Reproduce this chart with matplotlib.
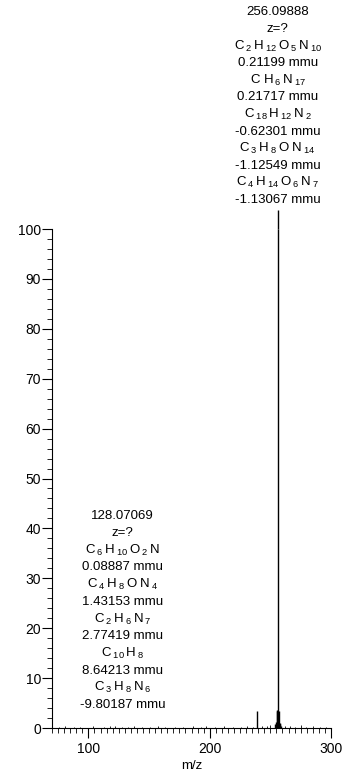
import numpy as np
import matplotlib.pyplot as plt
from matplotlib.ticker import MultipleLocator, FixedLocator

plt.rcParams['font.family'] = ['Liberation Sans', 'DejaVu Sans']
plt.rcParams['mathtext.fontset'] = 'custom'
plt.rcParams['mathtext.rm'] = 'Liberation Sans'

# peaks (m/z, relative abundance)
main_mz = [256.09888]
main_int = [100.0]
minor_mz = [239.1, 253.6, 254.5, 255.1, 255.5, 257.1, 257.6, 258.1, 259.0]
minor_int = [3.5, 0.8, 1.2, 3.4, 3.6, 3.4, 1.0, 0.9, 0.5]
noise_mz = [76, 81, 88, 93, 104, 113, 118, 122, 128.07, 133, 138, 144, 151, 157,
            163, 171, 178, 186, 193, 197, 204, 212, 219, 226, 231, 236, 243, 247,
            250, 262, 266, 270, 275, 279, 285, 291, 296]
noise_int = [0.3, 0.4, 0.2, 0.3, 0.4, 0.3, 0.5, 0.4, 0.3, 0.2, 0.5, 0.3, 0.2, 0.4,
             0.3, 0.2, 0.3, 0.4, 0.3, 0.5, 0.3, 0.4, 0.3, 0.2, 0.4, 0.3, 0.5, 0.4,
             0.6, 0.5, 0.4, 0.3, 0.6, 0.3, 0.4, 0.3, 0.2]

top_label = ['256.09888', 'z=?',
             r'$\mathregular{C\,_2\,H\,_{12}\,O\,_5\,N\,_{10}}$', '0.21199 mmu',
             r'$\mathregular{C\;H\,_6\,N\,_{17}}$', '0.21717 mmu',
             r'$\mathregular{C\,_{18}\,H\,_{12}\,N\,_2}$', '-0.62301 mmu',
             r'$\mathregular{C\,_3\,H\,_8\,O\;N\,_{14}}$', '-1.12549 mmu',
             r'$\mathregular{C\,_4\,H\,_{14}\,O\,_6\,N\,_7}$', '-1.13067 mmu']
low_label = ['128.07069', 'z=?',
             r'$\mathregular{C\,_6\,H\,_{10}\,O\,_2\,N}$', '0.08887 mmu',
             r'$\mathregular{C\,_4\,H\,_8\,O\;N\,_4}$', '1.43153 mmu',
             r'$\mathregular{C\,_2\,H\,_6\,N\,_7}$', '2.77419 mmu',
             r'$\mathregular{C\,_{10}\,H\,_8}$', '8.64213 mmu',
             r'$\mathregular{C\,_3\,H\,_8\,N\,_6}$', '-9.80187 mmu']

fig = plt.figure(figsize=(3.46, 7.74), dpi=100)
ax = fig.add_axes([52/346, 46/774, (331-52)/346, (728-0)/774])

ax.vlines(noise_mz, 0, noise_int, color='k', lw=0.6)
ax.vlines(minor_mz, 0, minor_int, color='k', lw=1.0)
ax.vlines(main_mz, 0, main_int, color='k', lw=1.0)
# leader from peak top up to label
ax.vlines(main_mz, 100, 103.8, color='k', lw=1.0)

ax.set_xlim(70, 300)
ax.set_ylim(0, 145.9)
ax.spines['top'].set_visible(False)
ax.spines['right'].set_visible(False)
ax.spines['left'].set_bounds(0, 100)
ax.spines['bottom'].set_bounds(70, 300)
ax.set_yticks(range(0, 101, 10))
ax.yaxis.set_minor_locator(FixedLocator(range(0, 101, 2)))
ax.set_xticks([100, 200, 300])
ax.xaxis.set_minor_locator(MultipleLocator(5))
ax.tick_params(axis='both', which='major', length=7, width=0.8, labelsize=10)
ax.tick_params(axis='y', which='major', pad=0.8)
ax.tick_params(axis='x', which='major', pad=3)
ax.tick_params(axis='both', which='minor', length=3.5, width=0.6)
ax.set_xlabel('m/z', fontsize=9.5, labelpad=3)

px = 0.72  # points per pixel
for i, s in enumerate(reversed(top_label)):
    ax.annotate(s, xy=(main_mz[0], 100), xytext=(0, (29 + 17.1 * i) * px),
                textcoords='offset points', ha='center', va='center', fontsize=9.5)
for i, s in enumerate(reversed(low_label)):
    ax.annotate(s, xy=(128.07069, 0), xytext=(0, (23 + 17.2 * i) * px),
                textcoords='offset points', ha='center', va='center', fontsize=9.5)

fig.savefig('out.png', dpi=100)
